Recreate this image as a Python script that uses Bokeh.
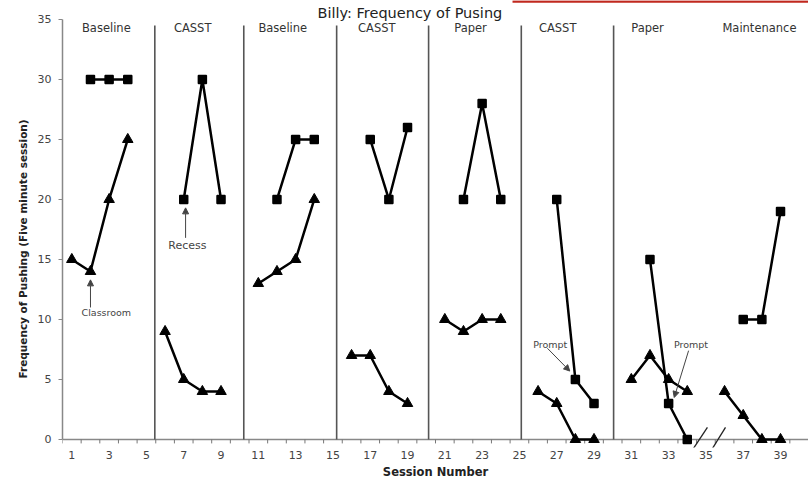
import math
from bokeh.plotting import figure
from bokeh.models import Range1d, FixedTicker, Arrow, NormalHead, Title
from bokeh.core.properties import value
from bokeh.embed import file_html
from bokeh.resources import INLINE

# ---- data ----
title_text = "Billy:  Frequency of Pusing"
x_label = "Session Number"
y_label = "Frequency of Pushing (Five minute session)"

phase_names = ["Baseline", "CASST", "Baseline", "CASST", "Paper", "CASST", "Paper", "Maintenance"]
phase_label_x = [2.85, 7.48, 12.31, 17.35, 22.38, 27.05, 31.87, 37.87]
phase_lines = [5.45, 10.22, 15.2, 20.13, 25.1, 30.05]

sq_sessions = [[2, 3, 4], [7, 8, 9], [12, 13, 14], [17, 18, 19], [22, 23, 24], [27, 28, 29], [32, 33, 34], [37, 38, 39]]
sq_values = [[30, 30, 30], [20, 30, 20], [20, 25, 25], [25, 20, 26], [20, 28, 20], [20, 5, 3], [15, 3, 0], [10, 10, 19]]
tri_sessions = [[1, 2, 3, 4], [6, 7, 8, 9], [11, 12, 13, 14], [16, 17, 18, 19], [21, 22, 23, 24], [26, 27, 28, 29], [31, 32, 33, 34], [36, 37, 38, 39]]
tri_values = [[15, 14, 20, 25], [9, 5, 4, 4], [13, 14, 15, 20], [7, 7, 4, 3], [10, 9, 10, 10], [4, 3, 0, 0], [5, 7, 5, 4], [4, 2, 0, 0]]

y_ticks = [0, 5, 10, 15, 20, 25, 30, 35]
x_ticks = list(range(1, 40, 2))
x_minor = [i + 0.5 for i in range(0, 41)]

# annotations: text, x, y, font size ; arrows: x_start, y_start, x_end, y_end
notes = [("Classroom", 2.85, 10.58, "9.5px"), ("Recess", 7.2, 16.2, "11px"),
         ("Prompt", 26.65, 7.9, "9.5px"), ("Prompt", 34.2, 7.9, "9.5px")]
arrows = [(2.0, 11.0, 2.0, 13.3), (7.1, 16.8, 7.1, 19.3),
          (26.5, 7.6, 27.7, 5.7), (34.07, 7.4, 33.3, 3.5)]
breaks = [(34.33, -0.75, 35.08, 1.0), (35.35, -0.75, 36.05, 1.0)]
red_bar = (24.63, 40.5, 36.5)

# ---- figure ----
B = 34
p = figure(width=808, height=481, output_backend="svg", toolbar_location=None,
           x_range=Range1d(0.5, 40.5), y_range=Range1d(36.58 - (481 - B) / 12.0, 36.58),
           min_border_left=62, min_border_right=0, min_border_top=0, min_border_bottom=B)
p.outline_line_color = None
p.xgrid.visible = False
p.ygrid.visible = False
p.background_fill_color = "white"

font = "DejaVu Sans"

# y axis (ticks + labels)
yax = p.yaxis[0]
yax.ticker = FixedTicker(ticks=y_ticks)
yax.bounds = (0, 35)
yax.axis_line_color = "#888888"
yax.axis_line_width = 1.5
yax.major_tick_line_color = "#888888"
yax.major_tick_out = 4
yax.major_tick_in = 0
yax.minor_tick_line_color = None
yax.major_label_standoff = 7
yax.major_label_text_font = font
yax.major_label_text_font_size = "11px"
yax.major_label_text_color = "#444444"

# y axis title as a side title (allows an offset along the axis)
p.add_layout(Title(text=y_label, align="left", offset=69, standoff=12,
                   text_font=font, text_font_size="10.5px", text_font_style="bold",
                   text_color="#222222"), "left")

# x axis: labels only (line and ticks drawn at y = 0 below)
xax = p.xaxis[0]
xax.ticker = FixedTicker(ticks=x_ticks)
xax.axis_line_color = None
xax.major_tick_line_color = None
xax.minor_tick_line_color = None
xax.major_tick_out = 0
xax.major_tick_in = 0
xax.minor_tick_out = 0
xax.minor_tick_in = 0
xax.major_label_standoff = 3
xax.major_label_text_font = font
xax.major_label_text_font_size = "11px"
xax.major_label_text_color = "#444444"
xax.axis_label = x_label
xax.axis_label_standoff = 3
xax.axis_label_text_font = font
xax.axis_label_text_font_size = "11.5px"
xax.axis_label_text_font_style = "bold"
xax.axis_label_text_color = "#222222"

# x axis line and tick marks at y = 0
p.segment(x0=[0.5], y0=[0], x1=[40.5], y1=[0], line_color="#888888", line_width=1.5)
p.segment(x0=x_minor, y0=[0] * len(x_minor), x1=x_minor, y1=[-0.33] * len(x_minor),
          line_color="#777777", line_width=1)

# phase lines
p.segment(x0=phase_lines, y0=[0] * len(phase_lines), x1=phase_lines, y1=[34.5] * len(phase_lines),
          line_color="#555555", line_width=1.6)

# data series
for xs, ys in zip(sq_sessions, sq_values):
    p.line(xs, ys, line_color="black", line_width=2.5)
    p.scatter(xs, ys, marker="square", size=8, fill_color="black", line_color="black", line_width=1.5)
for xs, ys in zip(tri_sessions, tri_values):
    p.line(xs, ys, line_color="black", line_width=2.5)
    p.scatter(xs, ys, marker="triangle", size=10.5, fill_color="black", line_color="black", line_width=1)

# phase labels
p.text(x=phase_label_x, y=[34.33] * len(phase_names), text=phase_names,
       text_font=value(font), text_font_size="11.5px", text_color="#333333",
       text_align="center", text_baseline="middle")

# title
p.text(x=[19.25], y=[35.5], text=[title_text], text_font=value(font), text_font_size="14.5px",
       text_color="#222222", text_align="center", text_baseline="middle")

# red bar at top
p.segment(x0=[red_bar[0]], y0=[red_bar[2]], x1=[red_bar[1]], y1=[red_bar[2]],
          line_color="#c0281e", line_width=2.5)

# notes
for t, x, y, fs in notes:
    p.text(x=[x], y=[y], text=[t], text_font=value(font), text_font_size=fs,
           text_color="#444444", text_align="center", text_baseline="middle")
for xs, ys, xe, ye in arrows:
    p.add_layout(Arrow(end=NormalHead(size=6, fill_color="#444444", line_color="#444444"),
                       x_start=xs, y_start=ys, x_end=xe, y_end=ye,
                       line_color="#444444", line_width=1))

# axis break marks
p.segment(x0=[b[0] for b in breaks], y0=[b[1] for b in breaks],
          x1=[b[2] for b in breaks], y1=[b[3] for b in breaks],
          line_color="#222222", line_width=1.3)

open("out.html", "w").write(file_html(p, INLINE))
